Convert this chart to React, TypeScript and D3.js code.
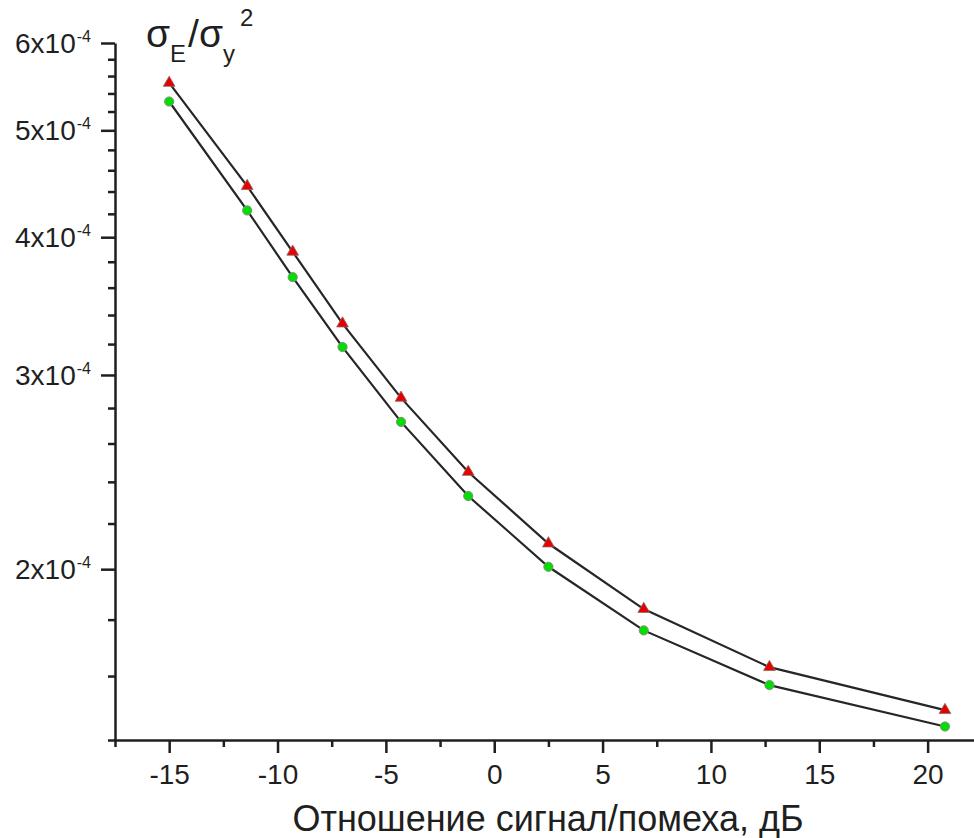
import React, { useRef, useEffect } from "react";
import * as d3 from "d3";

// signal/noise ratio, dB
const snr = [-15, -11.4, -9.3, -7.0, -4.3, -1.2, 2.5, 6.9, 12.7, 20.8];
// sigma_E / sigma_y^2, two series
const seriesTriangle = [5.52e-4, 4.45e-4, 3.88e-4, 3.34e-4, 2.86e-4, 2.45e-4, 2.11e-4, 1.84e-4, 1.63e-4, 1.49e-4];
const seriesCircle = [5.31e-4, 4.23e-4, 3.68e-4, 3.18e-4, 2.72e-4, 2.33e-4, 2.01e-4, 1.76e-4, 1.57e-4, 1.44e-4];

const xMajorTicks = [-15, -10, -5, 0, 5, 10, 15, 20];
const xMinorTicks = [-17.5, -12.5, -7.5, -2.5, 2.5, 7.5, 12.5, 17.5];
const yMajorTicks = [2e-4, 3e-4, 4e-4, 5e-4, 6e-4];
const yMajorLabels = ["2", "3", "4", "5", "6"];

const W = 974;
const H = 838;
const FONT = "'Liberation Sans', Arial, sans-serif";
const INK = "#1f1f1f";

export default function App() {
  const svgRef = useRef<SVGSVGElement>(null);

  useEffect(() => {
    const svg = d3.select(svgRef.current);
    svg.selectAll("*").remove();

    const x = d3.scaleLinear().domain([-17.5, 22.5]).range([115, 115 + 40 * 21.67]);
    const y = d3.scaleLog().domain([1.4e-4, 6e-4]).range([740, 43]);

    // minor y ticks every 0.2e-4
    const yMinorTicks = d3
      .range(14, 60, 2)
      .map(v => v * 1e-5)
      .filter(v => !yMajorTicks.some(m => Math.abs(m - v) < 1e-9));

    const g = svg.append("g");

    // x axis
    const xAxis = g.append("g").attr("transform", "translate(0,740)");
    xAxis.call(d3.axisBottom(x).tickValues(xMajorTicks).tickSize(13).tickSizeOuter(0).tickFormat(d => `${d}`));
    const xMinor = g.append("g").attr("transform", "translate(0,740)");
    xMinor.call(d3.axisBottom(x).tickValues(xMinorTicks).tickSize(7).tickSizeOuter(0).tickFormat(() => ""));
    xMinor.select(".domain").remove();
    xAxis.attr("font-size", 28);
    xAxis.selectAll("text")
      .attr("font-family", FONT)
      .attr("font-size", 28)
      .attr("fill", INK)
      .attr("dy", 0)
      .attr("y", 44);

    // y axis
    const yAxis = g.append("g").attr("transform", "translate(115,0)");
    yAxis.call(d3.axisLeft(y).tickValues(yMajorTicks).tickSize(14).tickSizeOuter(0).tickFormat(() => ""));
    const yMinor = g.append("g").attr("transform", "translate(115,0)");
    yMinor.call(d3.axisLeft(y).tickValues(yMinorTicks).tickSize(7).tickSizeOuter(0).tickFormat(() => ""));
    yMinor.select(".domain").remove();

    svg.selectAll(".domain").attr("stroke", INK).attr("stroke-width", 2.5);
    svg.selectAll(".tick line").attr("stroke", INK).attr("stroke-width", 2.5);
    // extend x domain to the page edge
    xAxis.select(".domain").attr("d", `M114,0.5H${W}`);

    // y tick labels with exponent
    const yLab = g.append("g")
      .selectAll("text")
      .data(yMajorTicks)
      .join("text")
      .attr("x", 91)
      .attr("y", d => y(d) + 10)
      .attr("text-anchor", "end")
      .attr("font-family", FONT)
      .attr("fill", INK);
    yLab.append("tspan").attr("font-size", 28).text((d, i) => `${yMajorLabels[i]}x10`);
    yLab.append("tspan").attr("font-size", 16).attr("dx", 1).attr("dy", -11).text("-4");

    // lines and markers
    const line = d3.line<number>().x((d, i) => x(snr[i])).y(d => y(d));
    [seriesTriangle, seriesCircle].forEach(s => {
      g.append("path")
        .attr("d", line(s))
        .attr("fill", "none")
        .attr("stroke", "#262626")
        .attr("stroke-width", 2.2);
    });

    g.append("g")
      .selectAll("circle")
      .data(seriesCircle)
      .join("circle")
      .attr("cx", (d, i) => x(snr[i]))
      .attr("cy", d => y(d))
      .attr("r", 4.6)
      .attr("fill", "#00e000")
      .attr("stroke", "#8a8a8a")
      .attr("stroke-width", 1);

    const tri = d3.symbol().type(d3.symbolTriangle).size(60);
    g.append("g")
      .selectAll("path")
      .data(seriesTriangle)
      .join("path")
      .attr("d", tri())
      .attr("transform", (d, i) => `translate(${x(snr[i])},${y(d)})`)
      .attr("fill", "#e60000")
      .attr("stroke", "#8a6a6a")
      .attr("stroke-width", 0.8);

    // y title: sigma_E / sigma_y ^2
    const t = g.append("text")
      .attr("x", 146)
      .attr("y", 47)
      .attr("font-family", FONT)
      .attr("fill", INK);
    t.append("tspan").attr("font-size", 39).text("σ");
    t.append("tspan").attr("font-size", 24).attr("dy", 15).text("E");
    t.append("tspan").attr("font-size", 39).attr("dy", -15).attr("dx", 2).text("/σ");
    t.append("tspan").attr("font-size", 24).attr("dy", 15).text("y");
    t.append("tspan").attr("font-size", 24).attr("dy", -36).attr("dx", 5).text("2");

    // x title
    g.append("text")
      .attr("x", 548)
      .attr("y", 831)
      .attr("text-anchor", "middle")
      .attr("font-family", FONT)
      .attr("font-size", 36)
      .attr("fill", INK)
      .text("Отношение сигнал/помеха, дБ");
  }, []);

  return (
    <svg
      ref={svgRef}
      width={W}
      height={H}
      style={{ position: "absolute", left: 0, top: 0, background: "#fff" }}
    ></svg>
  );
}
